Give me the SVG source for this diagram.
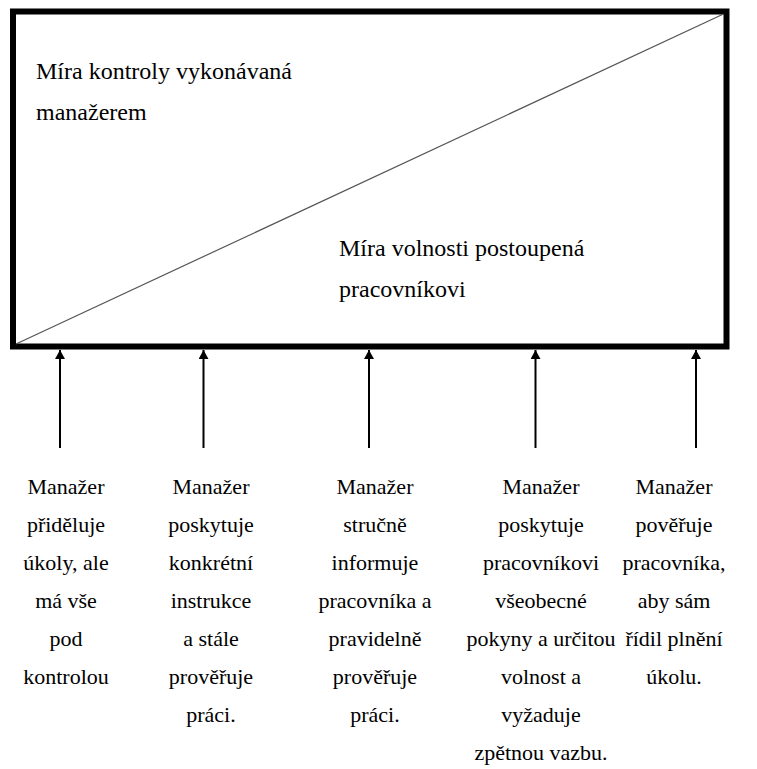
<svg xmlns="http://www.w3.org/2000/svg" width="757" height="769" viewBox="0 0 757 769">
<defs>
  <marker id="ah" markerWidth="11" markerHeight="10" refX="10" refY="5.5" orient="auto" markerUnits="userSpaceOnUse" viewBox="0 0 10 11">
    <path d="M0,0 L10,5.5 L0,11 Z" fill="#000"/>
  </marker>
</defs>
<rect width="757" height="769" fill="#fff"/>
<g id="frame">
  <rect x="13" y="11.5" width="713.5" height="335" fill="#fff" stroke="#000" stroke-width="6"/>
  <line x1="16" y1="344" x2="723.5" y2="14" stroke="#555" stroke-width="1.2"/>
  <g font-family="Liberation Serif" font-size="24" fill="#000">
    <text x="36" y="79">Míra kontroly vykonávaná</text>
    <text x="36" y="120">manažerem</text>
    <text x="339" y="256">Míra volnosti postoupená</text>
    <text x="339" y="297">pracovníkovi</text>
  </g>
</g>
<g id="connectors" stroke="#000" stroke-width="2" fill="none" marker-end="url(#ah)">
  <line x1="60" y1="448" x2="60" y2="350"/>
  <line x1="203.5" y1="448" x2="203.5" y2="350"/>
  <line x1="369" y1="448" x2="369" y2="350"/>
  <line x1="535.5" y1="448" x2="535.5" y2="350"/>
  <line x1="696" y1="448" x2="696" y2="350"/>
</g>
<g id="node1" font-family="Liberation Serif" font-size="22" text-anchor="middle" fill="#000">
  <text x="66" y="494">Manažer</text>
  <text x="66" y="532">přiděluje</text>
  <text x="66" y="570">úkoly, ale</text>
  <text x="66" y="608">má vše</text>
  <text x="66" y="646">pod</text>
  <text x="66" y="684">kontrolou</text>
</g>
<g id="node2" font-family="Liberation Serif" font-size="22" text-anchor="middle" fill="#000">
  <text x="211" y="494">Manažer</text>
  <text x="211" y="532">poskytuje</text>
  <text x="211" y="570">konkrétní</text>
  <text x="211" y="608">instrukce</text>
  <text x="211" y="646">a stále</text>
  <text x="211" y="684">prověřuje</text>
  <text x="211" y="722">práci.</text>
</g>
<g id="node3" font-family="Liberation Serif" font-size="22" text-anchor="middle" fill="#000">
  <text x="375" y="494">Manažer</text>
  <text x="375" y="532">stručně</text>
  <text x="375" y="570">informuje</text>
  <text x="375" y="608">pracovníka a</text>
  <text x="375" y="646">pravidelně</text>
  <text x="375" y="684">prověřuje</text>
  <text x="375" y="722">práci.</text>
</g>
<g id="node4" font-family="Liberation Serif" font-size="22" text-anchor="middle" fill="#000">
  <text x="541" y="494">Manažer</text>
  <text x="541" y="532">poskytuje</text>
  <text x="541" y="570">pracovníkovi</text>
  <text x="541" y="608">všeobecné</text>
  <text x="541" y="646">pokyny a určitou</text>
  <text x="541" y="684">volnost a</text>
  <text x="541" y="722">vyžaduje</text>
  <text x="541" y="760">zpětnou vazbu.</text>
</g>
<g id="node5" font-family="Liberation Serif" font-size="22" text-anchor="middle" fill="#000">
  <text x="674" y="494">Manažer</text>
  <text x="674" y="532">pověřuje</text>
  <text x="674" y="570">pracovníka,</text>
  <text x="674" y="608">aby sám</text>
  <text x="674" y="646">řídil plnění</text>
  <text x="674" y="684">úkolu.</text>
</g>
</svg>
